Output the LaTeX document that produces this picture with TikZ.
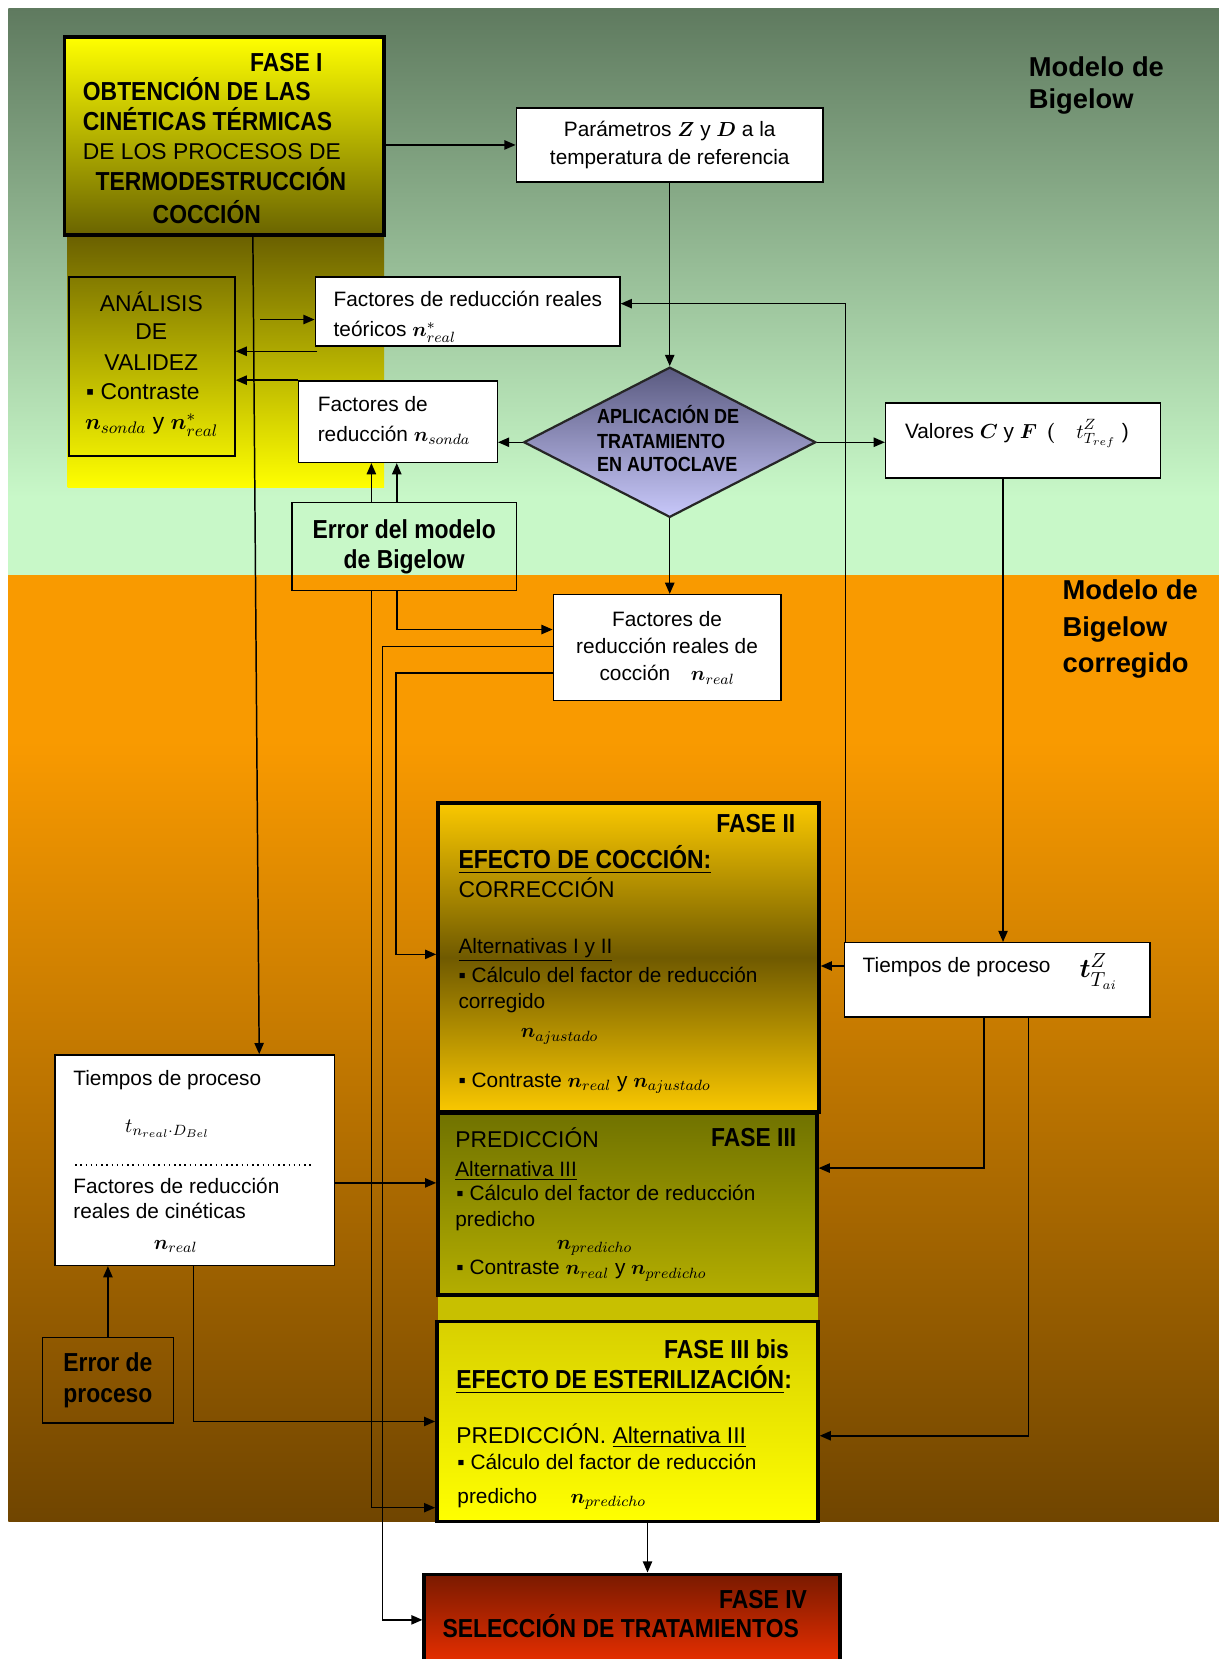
\documentclass[tikz,border=0pt]{standalone}
\usepackage{amsmath}
\usepackage{fontspec}
\setmainfont{Liberation Sans}
\newfontfamily\condfont[FakeStretch=0.88]{Liberation Sans}
\usetikzlibrary{arrows.meta,shapes.geometric}

\definecolor{verdeosc}{RGB}{95,122,95}
\definecolor{verdecla}{RGB}{200,248,200}
\definecolor{naranja}{RGB}{249,154,0}
\definecolor{marron}{RGB}{112,69,0}
\definecolor{amarillo}{RGB}{255,255,0}
\definecolor{oliva}{RGB}{106,100,0}
\definecolor{olivaosc}{RGB}{106,96,0}
\definecolor{oro}{RGB}{250,200,0}
\definecolor{ocre}{RGB}{112,90,0}
\definecolor{olivatres}{RGB}{112,114,0}
\definecolor{olivaclara}{RGB}{180,174,0}
\definecolor{banda}{RGB}{200,192,0}
\definecolor{amarbis}{RGB}{216,208,0}
\definecolor{rojoosc}{RGB}{122,26,0}
\definecolor{rojo}{RGB}{255,51,0}
\definecolor{lilaosc}{RGB}{90,90,128}
\definecolor{lila}{RGB}{200,200,250}

\newcommand{\nvar}{\boldsymbol{n}}
\newcommand{\txtn}{\fontsize{11.2}{14.7}\selectfont}
\newcommand{\txtg}{\fontsize{12.3}{15.9}\selectfont}
\newcommand{\fasef}{\condfont\bfseries\fontsize{14}{16.2}\selectfont}
\newcommand{\diamf}{\condfont\bfseries\fontsize{11}{12.8}\selectfont}
\newcommand{\modf}{\bfseries\fontsize{14.7}{17.6}\selectfont}

\tikzset{
  caja/.style={draw, fill=white, line width=0.8pt, inner sep=0pt},
  marco/.style={draw, line width=0.8pt, inner sep=0pt},
  fasebox/.style={draw, line width=2pt, inner sep=0pt},
  flecha/.style={line width=0.8pt, -{Triangle[length=6pt,width=5pt]}},
  etq/.style={inner sep=0pt, anchor=base west, font=\txtn},
}

\begin{document}
\begin{tikzpicture}[x=0.02cm, y=-0.02cm]
        % fondo
        \useasboundingbox (0,0) rectangle (1152,1568);
        \fill[white] (0,0) rectangle (1152,1568);
        \shade[top color=verdeosc, bottom color=verdecla] (8,8) rectangle (1152,470);
        \fill[verdecla] (8,469) rectangle (1152,543);
        \fill[naranja] (8,543) rectangle (1152,701);
        \shade[top color=naranja, bottom color=marron] (8,700) rectangle (1152,1438);
        \shade[top color=olivaosc, bottom color=amarillo] (64,222) rectangle (363,461);
        \fill[banda] (414,1224) rectangle (773,1249);
        % rotulos de modelo
        \node[etq, font=\modf] (mod1) at (972,72) {Modelo de};
        \node[etq, font=\modf] (mod2) at (972,103) {Bigelow};
        \node[etq, font=\modf] (mod3) at (1004,567) {Modelo de};
        \node[etq, font=\modf] (mod4) at (1004,602) {Bigelow};
        \node[etq, font=\modf] (mod5) at (1004,636) {corregido};
        % fase I
        \node[fasebox, top color=amarillo, bottom color=oliva, minimum width=6.04cm, minimum height=3.74cm] (fase1) at (212,128.5) {};
        \node[etq, font=\fasef] (f1a) at (236,68) {FASE I};
        \node[etq, font=\fasef] (f1b) at (78,95) {OBTENCIÓN DE LAS};
        \node[etq, font=\fasef] (f1c) at (78,123) {CINÉTICAS TÉRMICAS};
        \node[etq, font=\txtg] (f1d) at (78,151) {DE LOS PROCESOS DE};
        \node[etq, font=\fasef] (f1e) at (90,180) {TERMODESTRUCCIÓN};
        \node[etq, font=\fasef] (f1f) at (144,211) {COCCIÓN};
        % cajas superiores
        \node[caja, minimum width=5.8cm, minimum height=1.4cm, align=center, font=\txtn] (param) at (633,137)
            {Parámetros $\boldsymbol{Z}$ y $\boldsymbol{D}$ a la\\temperatura de referencia};
        \node[caja, minimum width=5.76cm, minimum height=1.3cm] (teor) at (442,294.5) {};
        \node[etq] (teor1) at (315,290) {Factores de reducción reales};
        \node[etq] (teor2) at (315,318) {teóricos $\nvar^{*}_{real}$};
        \node[marco, minimum width=3.14cm, minimum height=3.38cm] (anal) at (143.5,346.5) {};
        \node[etq, anchor=base, font=\txtg] (an1) at (143,294) {ANÁLISIS};
        \node[etq, anchor=base, font=\txtg] (an2) at (143,321) {DE};
        \node[etq, anchor=base, font=\txtg] (an3) at (143,350) {VALIDEZ};
        \node[etq, font=\txtg] (an4) at (81,378) {▪ Contraste};
        \node[etq, font=\txtg] (an5) at (80,406) {$\nvar_{sonda}$ y $\nvar^{*}_{real}$};
        \node[caja, minimum width=3.76cm, minimum height=1.54cm] (sonda) at (376,398.5) {};
        \node[etq] (son1) at (300,389) {Factores de};
        \node[etq] (son2) at (300,417) {reducción $\nvar_{sonda}$};
        % autoclave
        \node[diamond, draw=black!85, line width=1.2pt, top color=lilaosc, bottom color=lila,
            minimum width=5.52cm, minimum height=2.84cm, inner sep=0pt] (diam) at (633,418) {};
        \node[etq, font=\diamf] (dia1) at (564,400) {APLICACIÓN DE};
        \node[etq, font=\diamf] (dia2) at (564,424) {TRATAMIENTO};
        \node[etq, font=\diamf] (dia3) at (564,446) {EN AUTOCLAVE};
        \node[caja, minimum width=5.2cm, minimum height=1.42cm] (valores) at (967,416.5) {};
        \node[etq] (val1) at (855,414) {Valores $\boldsymbol{C}$ y $\boldsymbol{F}$\, $\boldsymbol{(}$\quad$\displaystyle t^{Z}_{T_{ref}}$\;)};
        \node[marco, minimum width=4.24cm, minimum height=1.66cm, align=center, font=\fasef] (errbig) at (382,516.5)
            {Error del modelo\\de Bigelow};
        \node[caja, minimum width=4.3cm, minimum height=2cm, align=center, font=\txtn] (coccion) at (630.5,612)
            {Factores de\\reducción reales de\\cocción\quad $\nvar_{real}$};
        % fase II
        \node[fasebox, top color=oro, bottom color=oro, middle color=ocre, minimum width=7.2cm, minimum height=5.84cm] (fase2) at (594,905) {};
        \node[etq, anchor=base east, font=\fasef] (f2a) at (752,787) {FASE II};
        \node[etq, font=\fasef] (f2b) at (433,821) {\underline{EFECTO DE COCCIÓN:}};
        \node[etq, font=\txtg] (f2c) at (433,848) {CORRECCIÓN};
        \node[etq] (f2d) at (433,901) {\underline{Alternativas I y II}};
        \node[etq] (f2e) at (433,929) {▪ Cálculo del factor de reducción};
        \node[etq] (f2f) at (433,953) {corregido};
        \node[etq] (f2g) at (492,981) {$\nvar_{ajustado}$};
        \node[etq] (f2h) at (433,1028) {▪ Contraste $\nvar_{real}$ y $\nvar_{ajustado}$};
        \node[caja, minimum width=5.78cm, minimum height=1.4cm] (tiempR) at (942.5,926) {};
        \node[etq] (tr1) at (815,919) {Tiempos de proceso};
        \node[etq, font=\fontsize{15}{17}\selectfont] (tr2) at (1020,924) {$\boldsymbol{t}^{Z}_{T_{ai}}$};
        % fase III
        \node[fasebox, top color=olivatres, bottom color=olivaclara, minimum width=7.16cm, minimum height=3.44cm] (fase3) at (593,1138) {};
        \node[etq, font=\txtg] (f3a) at (430,1085) {PREDICCIÓN};
        \node[etq, anchor=base east, font=\fasef] (f3b) at (753,1084) {FASE III};
        \node[etq] (f3c) at (430,1112) {\underline{Alternativa III}};
        \node[etq] (f3d) at (431,1135) {▪ Cálculo del factor de reducción};
        \node[etq] (f3e) at (430,1159) {predicho};
        \node[etq] (f3f) at (526,1181) {$\nvar_{predicho}$};
        \node[etq] (f3g) at (431,1205) {▪ Contraste $\nvar_{real}$ y $\nvar_{predicho}$};
        % fase III bis
        \node[fasebox, top color=amarbis, bottom color=amarillo, minimum width=7.2cm, minimum height=3.78cm] (fase3b) at (593,1343.5) {};
        \node[etq, anchor=base east, font=\fasef] (f3ba) at (746,1284) {FASE III bis};
        \node[etq, font=\fasef] (f3bb) at (431,1312) {\underline{EFECTO DE ESTERILIZACIÓN}:};
        \node[etq, font=\txtg] (f3bc) at (431,1364) {PREDICCIÓN. \underline{Alternativa III}};
        \node[etq] (f3bd) at (432,1389) {▪ Cálculo del factor de reducción};
        \node[etq] (f3be) at (432,1421) {predicho};
        \node[etq] (f3bf) at (539,1421) {$\nvar_{predicho}$};
        % cajas de la izquierda
        \node[caja, minimum width=5.28cm, minimum height=3.98cm] (tiempL) at (184,1096.5) {};
        \node[etq] (tl1) at (69,1026) {Tiempos de proceso};
        \node[etq] (tl2) at (118,1070) {$t_{n_{real}\cdot D_{Bel}}$};
        \draw[dotted, line width=0.8pt] (71,1101) -- (295,1101);
        \node[etq] (tl3) at (69,1128) {Factores de reducción};
        \node[etq] (tl4) at (69,1152) {reales de cinéticas};
        \node[etq] (tl5) at (145,1181) {$\nvar_{real}$};
        \node[marco, minimum width=2.48cm, minimum height=1.62cm, align=center, font=\fasef] (errproc) at (102,1304.5)
            {Error de\\proceso};
        % fase IV
        \node[fasebox, top color=rojoosc, bottom color=rojo, minimum width=7.86cm, minimum height=2.04cm] (fase4) at (597.5,1539) {};
        \node[etq, anchor=base east, font=\fasef] (f4a) at (763,1520) {FASE IV};
        \node[etq, font=\fasef] (f4b) at (418,1548) {SELECCIÓN DE TRATAMIENTOS};
        % conectores
        \coordinate (hA) at (246,302);
        \coordinate (hB) at (300,332);
        \draw[flecha] (fase1.east |- param.west) -- (param.west);
        \draw[flecha] (param.south) -- (param.south |- diam.north);
        \draw[flecha] (diam.east) -- (diam.east -| valores.west);
        \draw[flecha] (diam.west) -- (diam.west -| sonda.east);
        \draw[flecha] (diam.south) -- (diam.south |- coccion.north);
        \draw[flecha] ([xshift=-0.38cm]valores.south) -- ([xshift=-0.38cm]valores.south |- tiempR.north);
        \draw[flecha] ([xshift=0.04cm]tiempR.north west) |- ([yshift=0.15cm]teor.east);
        \draw[flecha] (hA) -- (hA -| teor.west);
        \draw[flecha] (hB) -- (hB -| anal.east);
        \draw[flecha] (sonda.north west) -- (sonda.north west -| anal.east);
        \draw[flecha] ([xshift=-0.62cm]errbig.north) -- ([xshift=-0.62cm]errbig.north |- sonda.south);
        \draw[flecha] ([xshift=-0.14cm]errbig.north) -- ([xshift=-0.14cm]errbig.north |- sonda.south);
        \draw[flecha] ([xshift=-0.14cm]errbig.south) |- ([yshift=0.34cm]coccion.west);
        \draw[flecha] ([xshift=-0.62cm]errbig.south) |- ([yshift=-1.63cm]fase3b.west);
        \draw[flecha] ([yshift=0.02cm]coccion.west) -- ++(-161,0) |- ([yshift=0.16cm]fase4.west);
        \draw[flecha] ([yshift=-0.48cm]coccion.west) -- ++(-148,0) |- ([yshift=0.06cm]fase2.west);
        \draw[flecha] ([yshift=0.26cm]tiempR.west) -- ([yshift=0.26cm]tiempR.west -| fase2.east);
        \draw[flecha] ([xshift=-0.25cm]tiempR.south) |- ([yshift=0.68cm]fase3.east);
        \draw[flecha] ([xshift=0.59cm]tiempR.south) |- ([yshift=-0.27cm]fase3b.east);
        \draw[flecha] ([xshift=0.54cm]fase1.south) -- ([xshift=1.22cm]tiempL.north);
        \draw[flecha] ([yshift=-0.43cm]tiempL.east) -- ([yshift=-0.43cm]tiempL.east -| fase3.west);
        \draw[flecha] ([xshift=-0.02cm]tiempL.south) |- (fase3b.west);
        \draw[flecha] (errproc.north) -- (errproc.north |- tiempL.south);
        \draw[flecha] ([xshift=0.38cm]fase3b.south) -- ([xshift=0.38cm]fase3b.south |- fase4.north);
\end{tikzpicture}
\end{document}
